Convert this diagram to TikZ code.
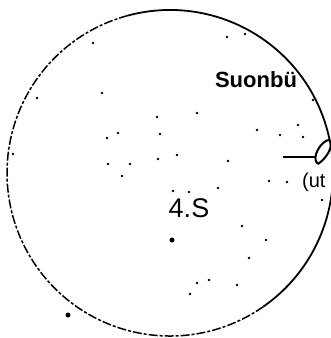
\documentclass[tikz,border=0pt]{standalone}
\usepackage{fontspec}
\setmainfont{Liberation Sans}
\begin{document}
\begin{tikzpicture}[x=1pt,y=-1pt,
  rim/.style={line width=1.8pt,black},
  rimdash/.style={line width=1.5pt,black,dash pattern=on 9pt off 2pt on 3pt off 2pt},
  speck/.style={fill=black,inner sep=0pt,minimum size=2pt,circle},
  lbl/.style={inner sep=0pt,text=black}]
\useasboundingbox (0,0) rectangle (331,338);
\begin{scope}
\clip (0,0) rectangle (331,338);
% circle outline
\draw[rim] (170,173) ++(-105:163) arc[start angle=-105,end angle=55,radius=163];
\draw[rimdash] (170,173) ++(55:163) arc[start angle=55,end angle=255,radius=163];
% labels
\node[lbl,font=\bfseries\fontsize{22}{24}\selectfont] (top) at (256,80) {Suonbü};
\node[lbl,font=\fontsize{27}{29}\selectfont] (mid) at (189,208) {4.S};
\node[lbl,font=\fontsize{20}{22}\selectfont,anchor=west] (side) at (302,182) {(ut};
% pointer line and nib
\coordinate (ls) at (283,157);
\coordinate (nib) at (316,157);
\coordinate (tip) at (318,164);
\draw[line width=1.3pt] (ls) -- (nib);
\draw[line width=2pt] (tip) .. controls (310,158) and (322,140) .. (329,140)
   .. controls (334,141) and (330,156) .. (tip);
% dots
\node[speck,minimum size=5pt] (d1) at (172,240) {};
\node[speck,minimum size=5pt] (d2) at (68,315) {};
\foreach \p in {(227,37),(245,34),(93,43),(102,93),(37,98),(313,100),(197,113),(157,117),(118,133),(107,138),(160,134),(257,130),(280,135),(298,125),(303,137),(108,164),(130,164),(158,159),(177,155),(228,161),(122,176),(269,181),(287,182),(218,188),(173,191),(189,192),(322,200),(242,226),(266,240),(249,258),(197,283),(209,280),(237,285),(190,294),(13,154)}
  \fill \p circle[radius=1.3pt];
\end{scope}
\end{tikzpicture}
\end{document}
